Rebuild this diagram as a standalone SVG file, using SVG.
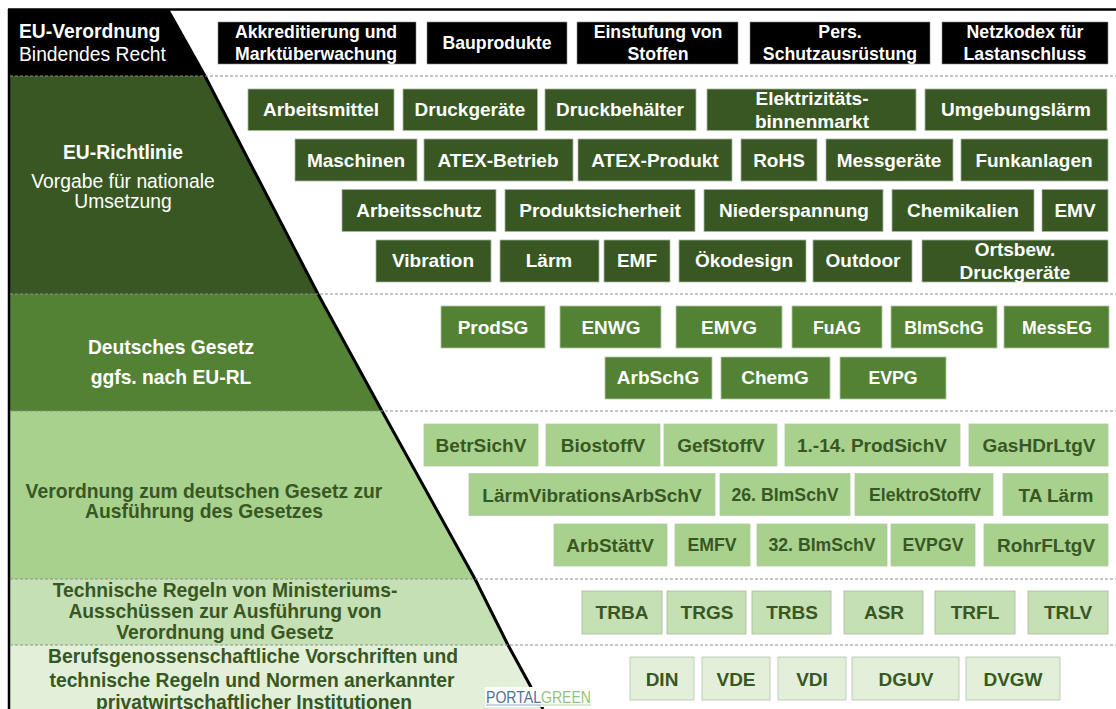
<svg xmlns="http://www.w3.org/2000/svg" width="1116" height="709" viewBox="0 0 1116 709">
<defs><style>
text{font-family:"Liberation Sans",Arial,sans-serif;text-anchor:middle}
.b{font-weight:700;font-size:19px}
.s{font-weight:700;font-size:17.7px}
.l{font-weight:700;font-size:19.3px}
.n{font-size:19.3px}
.st{text-anchor:start}
.w{fill:#fff}.d{fill:#385723}
.k rect{fill:#000;stroke:#8a8a8a;stroke-width:.6}
.g1 rect{fill:#385723;stroke:#a9b5a0;stroke-width:.8}
.g2 rect{fill:#548235;stroke:#b3c6a5;stroke-width:.8}
.g3 rect{fill:#a9d18e;stroke:#b5c9a8;stroke-width:.8}
.g4 rect{fill:#c5e0b4;stroke:#aab8a2;stroke-width:.8}
.g5 rect{fill:#e2f0d9;stroke:#b5c0ae;stroke-width:.8}
.k text,.g1 text,.g2 text{fill:#fff}
.g3 text,.g4 text,.g5 text{fill:#385723}
.dash{stroke:#8c8c8c;stroke-width:1;stroke-dasharray:3 2;fill:none}
</style></defs>
<rect width="1116" height="709" fill="#fff"/>
<g id="pyramid">
<polygon points="10,10 168,10 205,76 10,76" fill="#000"/>
<polygon points="10,76 205,76 318,294 10,294" fill="#385723"/>
<polygon points="10,294 318,294 382,411 10,411" fill="#548235"/>
<polygon points="10,411 382,411 475,579 10,579" fill="#a9d18e"/>
<polygon points="10,579 475,579 508,645 10,645" fill="#c5e0b4"/>
<polygon points="10,645 508,645 543,709 10,709" fill="#e2f0d9"/>
</g>
<g id="connectors">
<path d="M8,9.500H1116" stroke="#000" stroke-width="2.500" fill="none"/>
<path d="M9,9V709" stroke="#000" stroke-width="2.500" fill="none"/>
<path d="M168,10L205,76L318,294L382,411L475,579L508,645L543,709" stroke="#000" stroke-width="3" fill="none"/>
<path class="dash" d="M10,76H1116M10,294H1116M10,411H1116M10,579H1116M10,645H1116"/>
</g>
<g id="level-labels">
<text x="19" y="38" class="l w st">EU-Verordnung</text>
<text x="19" y="61" class="n w st">Bindendes Recht</text>
<text x="123" y="159" class="l w">EU-Richtlinie</text>
<text x="123" y="188" class="n w">Vorgabe für nationale</text>
<text x="123" y="208" class="n w">Umsetzung</text>
<text x="171" y="354" class="l w">Deutsches Gesetz</text>
<text x="171" y="384" class="l w">ggfs. nach EU-RL</text>
<text x="204" y="498" class="l d">Verordnung zum deutschen Gesetz zur</text>
<text x="204" y="518" class="l d">Ausführung des Gesetzes</text>
<text x="225" y="597" class="l d">Technische Regeln von Ministeriums-</text>
<text x="225" y="618" class="l d">Ausschüssen zur Ausführung von</text>
<text x="225" y="639" class="l d">Verordnung und Gesetz</text>
<text x="253" y="663" class="l d">Berufsgenossenschaftliche Vorschriften und</text>
<text x="252" y="687" class="l d">technische Regeln und Normen anerkannter</text>
<text x="254" y="709" class="l d">privatwirtschaftlicher Institutionen</text>
</g>
<g id="eu-verordnung" class="k">
<g id="n-akk"><rect x="218" y="22" width="198" height="42"/><text class="s" x="316" y="38">Akkreditierung und</text><text class="s" x="316" y="60">Marktüberwachung</text></g>
<g id="n-bau"><rect x="427" y="22" width="140" height="42"/><text class="s" x="497" y="49">Bauprodukte</text></g>
<g id="n-stoff"><rect x="577" y="22" width="161" height="42"/><text class="s" x="658" y="38">Einstufung von</text><text class="s" x="658" y="60">Stoffen</text></g>
<g id="n-psa"><rect x="750" y="22" width="180" height="42"/><text class="s" x="840" y="38">Pers.</text><text class="s" x="840" y="60">Schutzausrüstung</text></g>
<g id="n-netz"><rect x="942" y="22" width="166" height="42"/><text class="s" x="1025" y="38">Netzkodex für</text><text class="s" x="1025" y="60">Lastanschluss</text></g>
</g>
<g id="eu-richtlinie" class="g1">
<g id="n-arbm"><rect x="248" y="89" width="146" height="41.500"/><text class="b" x="321" y="116">Arbeitsmittel</text></g>
<g id="n-dg"><rect x="403" y="89" width="134.500" height="41.500"/><text class="b" x="470" y="116">Druckgeräte</text></g>
<g id="n-db"><rect x="545" y="89" width="151" height="41.500"/><text class="b" x="620" y="116">Druckbehälter</text></g>
<g id="n-el"><rect x="707" y="89" width="209" height="41.500"/><text class="b" x="812" y="105">Elektrizitäts-</text><text class="b" x="812" y="128">binnenmarkt</text></g>
<g id="n-ul"><rect x="925" y="89" width="182" height="41.500"/><text class="b" x="1016" y="116">Umgebungslärm</text></g>
<g id="n-ma"><rect x="295" y="139" width="122" height="42"/><text class="b" x="356" y="167">Maschinen</text></g>
<g id="n-ab"><rect x="424" y="139" width="149" height="42"/><text class="b" x="498" y="167">ATEX-Betrieb</text></g>
<g id="n-ap"><rect x="578" y="139" width="154" height="42"/><text class="b" x="655" y="167">ATEX-Produkt</text></g>
<g id="n-ro"><rect x="741" y="139" width="76" height="42"/><text class="b" x="779" y="167">RoHS</text></g>
<g id="n-mg"><rect x="826" y="139" width="127" height="42"/><text class="b" x="889" y="167">Messgeräte</text></g>
<g id="n-fa"><rect x="961" y="139" width="147" height="42"/><text class="b" x="1034" y="167">Funkanlagen</text></g>
<g id="n-as"><rect x="342" y="189.500" width="154" height="42"/><text class="b" x="419" y="217">Arbeitsschutz</text></g>
<g id="n-ps"><rect x="505" y="189.500" width="190" height="42"/><text class="b" x="600" y="217">Produktsicherheit</text></g>
<g id="n-ns"><rect x="704" y="189.500" width="179" height="42"/><text class="b" x="794" y="217">Niederspannung</text></g>
<g id="n-ch"><rect x="892" y="189.500" width="142" height="42"/><text class="b" x="963" y="217">Chemikalien</text></g>
<g id="n-emv"><rect x="1042" y="189.500" width="66" height="42"/><text class="b" x="1075" y="217">EMV</text></g>
<g id="n-vi"><rect x="376" y="240" width="115" height="42"/><text class="b" x="433" y="267">Vibration</text></g>
<g id="n-la"><rect x="500" y="240" width="99" height="42"/><text class="b" x="549" y="267">Lärm</text></g>
<g id="n-emf"><rect x="604" y="240" width="66" height="42"/><text class="b" x="637" y="267">EMF</text></g>
<g id="n-oe"><rect x="679" y="240" width="127" height="42"/><text class="b" x="744" y="267">Ökodesign</text></g>
<g id="n-ou"><rect x="813" y="240" width="99" height="42"/><text class="b" x="863" y="267">Outdoor</text></g>
<g id="n-or"><rect x="922" y="240" width="186" height="42"/><text class="b" x="1015" y="256">Ortsbew.</text><text class="b" x="1015" y="279">Druckgeräte</text></g>
</g>
<g id="deutsches-gesetz" class="g2">
<g id="n-prodsg"><rect x="441" y="306" width="104" height="42"/><text class="b" x="493" y="334">ProdSG</text></g>
<g id="n-enwg"><rect x="560" y="306" width="101" height="42"/><text class="b" x="611" y="334">ENWG</text></g>
<g id="n-emvg"><rect x="676" y="306" width="106" height="42"/><text class="b" x="729" y="334">EMVG</text></g>
<g id="n-fuag"><rect x="792" y="306" width="90" height="42"/><text class="s" x="837" y="334">FuAG</text></g>
<g id="n-bimschg"><rect x="891" y="306" width="106" height="42"/><text class="s" x="944" y="334">BImSchG</text></g>
<g id="n-messeg"><rect x="1004" y="306" width="105" height="42"/><text class="s" x="1057" y="334">MessEG</text></g>
<g id="n-arbschg"><rect x="605" y="357" width="107" height="42"/><text class="b" x="658" y="384">ArbSchG</text></g>
<g id="n-chemg"><rect x="721" y="357" width="109" height="42"/><text class="b" x="775" y="384">ChemG</text></g>
<g id="n-evpg"><rect x="840" y="357" width="106" height="42"/><text class="s" x="893" y="384">EVPG</text></g>
</g>
<g id="verordnungen" class="g3">
<g id="n-betr"><rect x="424" y="424" width="114" height="42"/><text class="b" x="481" y="452">BetrSichV</text></g>
<g id="n-bio"><rect x="546" y="424" width="114" height="42"/><text class="b" x="603" y="452">BiostoffV</text></g>
<g id="n-gef"><rect x="664" y="424" width="113" height="42"/><text class="b" x="721" y="452">GefStoffV</text></g>
<g id="n-14"><rect x="785" y="424" width="175" height="42"/><text class="b" x="872" y="452">1.-14. ProdSichV</text></g>
<g id="n-gas"><rect x="969" y="424" width="139" height="42"/><text class="b" x="1039" y="452">GasHDrLtgV</text></g>
<g id="n-lv"><rect x="469" y="473.500" width="246" height="42"/><text class="b" x="592" y="502">LärmVibrationsArbSchV</text></g>
<g id="n-26"><rect x="720" y="473.500" width="130" height="42"/><text class="s" x="785" y="501">26. BImSchV</text></g>
<g id="n-es"><rect x="855" y="473.500" width="138" height="42"/><text class="s" x="925" y="501">ElektroStoffV</text></g>
<g id="n-ta"><rect x="1003" y="473.500" width="105" height="42"/><text class="b" x="1056" y="502">TA Lärm</text></g>
<g id="n-ast"><rect x="554" y="524" width="113" height="42"/><text class="b" x="610" y="552">ArbStättV</text></g>
<g id="n-emfv"><rect x="675" y="524" width="75" height="42"/><text class="s" x="712" y="551">EMFV</text></g>
<g id="n-32"><rect x="757" y="524" width="130" height="42"/><text class="s" x="822" y="551">32. BImSchV</text></g>
<g id="n-evpgv"><rect x="891" y="524" width="84" height="42"/><text class="s" x="933" y="551">EVPGV</text></g>
<g id="n-rohr"><rect x="984" y="524" width="124" height="42"/><text class="b" x="1046" y="552">RohrFLtgV</text></g>
</g>
<g id="technische-regeln" class="g4">
<g id="n-trba"><rect x="582" y="591" width="80" height="43"/><text class="b" x="622" y="619">TRBA</text></g>
<g id="n-trgs"><rect x="667" y="591" width="79" height="43"/><text class="b" x="707" y="619">TRGS</text></g>
<g id="n-trbs"><rect x="752" y="591" width="79" height="43"/><text class="b" x="792" y="619">TRBS</text></g>
<g id="n-asr"><rect x="844" y="591" width="79" height="43"/><text class="b" x="884" y="619">ASR</text></g>
<g id="n-trfl"><rect x="935" y="591" width="80" height="43"/><text class="b" x="975" y="619">TRFL</text></g>
<g id="n-trlv"><rect x="1028" y="591" width="80" height="43"/><text class="b" x="1068" y="619">TRLV</text></g>
</g>
<g id="normen" class="g5">
<g id="n-din"><rect x="630" y="657" width="64" height="43"/><text class="b" x="662" y="686">DIN</text></g>
<g id="n-vde"><rect x="702" y="657" width="68" height="43"/><text class="b" x="736" y="686">VDE</text></g>
<g id="n-vdi"><rect x="778" y="657" width="68" height="43"/><text class="b" x="812" y="686">VDI</text></g>
<g id="n-dguv"><rect x="852" y="657" width="107" height="43"/><text class="b" x="906" y="686">DGUV</text></g>
<g id="n-dvgw"><rect x="966" y="657" width="94" height="43"/><text class="b" x="1013" y="686">DVGW</text></g>
</g>
<g id="logo">
<rect x="485" y="687" width="107" height="20" fill="#fff"/>
<path d="M486,705H541" stroke="#8fa6c0" stroke-width="1" fill="none"/>
<path d="M541,705H591" stroke="#b5d8a6" stroke-width="1" fill="none"/>
<text x="486" y="703" class="st" style="font-size:17px" textLength="105" lengthAdjust="spacingAndGlyphs"><tspan fill="#4f6f93">PORTAL</tspan><tspan fill="#8fc483">GREEN</tspan></text>
</g>
</svg>
